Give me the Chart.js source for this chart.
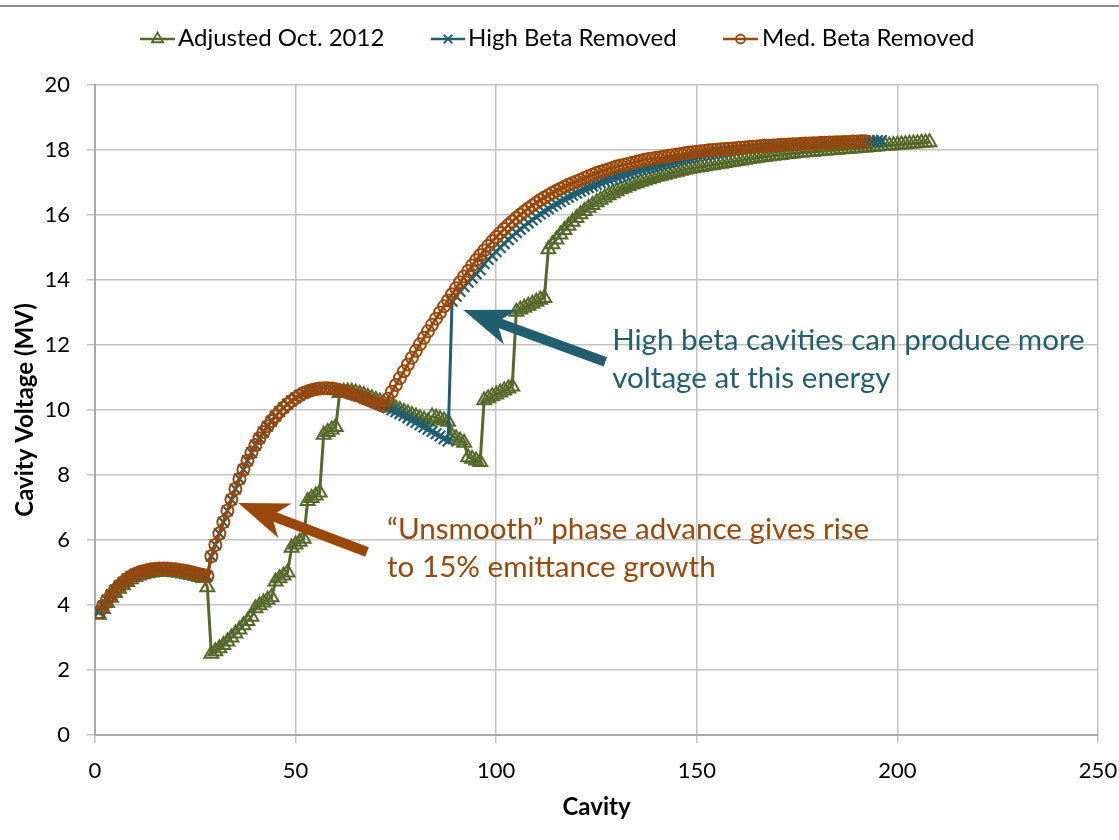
<!DOCTYPE html>
<html>
<head>
<meta charset="utf-8">
<script src="https://cdn.jsdelivr.net/npm/chart.js@4.4.1/dist/chart.umd.min.js"></script>
<style>
  html, body { margin: 0; padding: 0; background: #fff; }
  #wrap { position: relative; width: 1119px; height: 840px; }
  #topline { position: absolute; left: 0; top: 5px; width: 1119px; height: 2px; background: #8c8c8c; }
</style>
</head>
<body>
<div id="wrap">
  <div id="topline"></div>
  <canvas id="chart" width="1119" height="840"></canvas>
</div>
<script>
// cavity voltage (MV), one value per cavity, cavity numbers start at 1
const adjustedOct2012 = [
  3.70, 3.88, 4.06, 4.22, 4.37, 4.50, 4.61, 4.71, 4.79, 4.86,
  4.91, 4.95, 4.98, 5.00, 5.02, 5.03, 5.03, 5.03, 5.02, 5.01,
  4.99, 4.97, 4.95, 4.92, 4.89, 4.86, 4.83, 4.55,
  2.50, 2.58, 2.67, 2.77, 2.88, 3.00, 3.12, 3.25, 3.38, 3.51, 3.64,
  3.90, 3.99, 4.08, 4.16, 4.24,
  4.72, 4.82, 4.91, 5.00,
  5.76, 5.86, 5.95, 6.04,
  7.20, 7.29, 7.37, 7.46,
  9.24, 9.32, 9.40, 9.48,
  10.52, 10.56, 10.57, 10.56, 10.54, 10.50, 10.46, 10.41, 10.36, 10.31, 10.26, 10.21,
  10.15, 10.10, 10.05, 10.00, 9.95, 9.90, 9.85, 9.80, 9.75, 9.70, 9.65,
  9.80, 9.76, 9.72, 9.68, 9.64,
  9.20, 9.13, 9.06, 8.99,
  8.55, 8.50, 8.45, 8.40,
  10.30, 10.36, 10.42, 10.48, 10.54, 10.60, 10.66, 10.72,
  13.02, 13.09, 13.15, 13.21, 13.27, 13.33, 13.39, 13.45,
  14.95, 15.10, 15.25, 15.40, 15.54, 15.67, 15.79, 15.91, 16.02, 16.12,
  16.22, 16.31, 16.39, 16.47, 16.54, 16.61, 16.67, 16.73, 16.79, 16.84,
  16.89, 16.94, 16.98, 17.02, 17.06, 17.10, 17.14, 17.18, 17.21, 17.24,
  17.27, 17.30, 17.33, 17.36, 17.39, 17.42, 17.44, 17.46, 17.48, 17.50,
  17.52, 17.54, 17.56, 17.58, 17.60, 17.62, 17.64, 17.66,
  17.68, 17.70, 17.72, 17.74, 17.76, 17.78, 17.79, 17.81, 17.82, 17.84,
  17.85, 17.87, 17.88, 17.89, 17.91, 17.92, 17.93, 17.94, 17.95, 17.96,
  17.97, 17.98, 17.99, 18.00, 18.01, 18.02, 18.03, 18.04, 18.05, 18.06,
  18.07, 18.08, 18.09, 18.10, 18.11, 18.12, 18.13, 18.14, 18.15, 18.16,
  18.17, 18.18, 18.19, 18.20, 18.21, 18.22, 18.23, 18.24
];

const highBetaRemoved = [
  3.78, 3.97, 4.15, 4.31, 4.46, 4.59, 4.70, 4.80, 4.88, 4.95,
  5.00, 5.04, 5.07, 5.10, 5.11, 5.12, 5.12, 5.12, 5.11, 5.10,
  5.08, 5.06, 5.04, 5.01, 4.98, 4.95, 4.92, 4.89,
  5.50, 5.85, 6.20, 6.55, 6.90, 7.24, 7.57, 7.88, 8.17, 8.44,
  8.69, 8.92, 9.13, 9.32, 9.50, 9.66, 9.81, 9.95, 10.07, 10.18,
  10.28, 10.37, 10.45, 10.52, 10.57, 10.61, 10.64, 10.66, 10.67, 10.67,
  10.66, 10.64, 10.61, 10.58, 10.54, 10.50, 10.46, 10.42, 10.37, 10.32,
  10.27, 10.22, 10.17, 10.12,
  10.07, 10.01, 9.95, 9.89, 9.83, 9.76, 9.69, 9.62, 9.55, 9.48,
  9.41, 9.34, 9.27, 9.20, 9.12, 9.05,
  13.35, 13.50, 13.65, 13.79, 13.93, 14.06, 14.19, 14.32, 14.50, 14.63,
  14.75, 14.87,
  15.00, 15.12, 15.24, 15.35, 15.46, 15.56, 15.66, 15.76, 15.85, 15.94,
  16.03, 16.11, 16.19, 16.27, 16.34, 16.41, 16.48, 16.55, 16.61, 16.67,
  16.73,
  16.79, 16.84, 16.89, 16.94, 16.99, 17.04, 17.08, 17.12, 17.16, 17.20,
  17.24, 17.28, 17.32, 17.36, 17.40, 17.43, 17.46, 17.49, 17.52, 17.55,
  17.58, 17.61, 17.64, 17.67, 17.70, 17.73, 17.76, 17.79, 17.82,
  17.84, 17.86, 17.88, 17.90, 17.92, 17.94, 17.96, 17.98, 18.00, 18.01,
  18.03, 18.04, 18.05, 18.07, 18.08, 18.09, 18.10, 18.11, 18.12, 18.13,
  18.14, 18.15, 18.16, 18.17, 18.18, 18.18, 18.19, 18.20, 18.21, 18.21,
  18.22, 18.23, 18.23, 18.24, 18.24, 18.25, 18.25, 18.26, 18.26, 18.27,
  18.27, 18.28, 18.28, 18.28, 18.29, 18.29
];

const medBetaRemoved = [
  3.78, 3.97, 4.15, 4.31, 4.46, 4.59, 4.70, 4.80, 4.88, 4.95,
  5.00, 5.04, 5.07, 5.10, 5.11, 5.12, 5.12, 5.12, 5.11, 5.10,
  5.08, 5.06, 5.04, 5.01, 4.98, 4.95, 4.92, 4.89,
  5.50, 5.85, 6.20, 6.55, 6.90, 7.24, 7.57, 7.88, 8.17, 8.44,
  8.69, 8.92, 9.13, 9.32, 9.50, 9.66, 9.81, 9.95, 10.07, 10.18,
  10.28, 10.37, 10.45, 10.52, 10.57, 10.61, 10.64, 10.66, 10.67, 10.67,
  10.66, 10.64, 10.61, 10.58, 10.54, 10.50, 10.46, 10.42, 10.37, 10.32,
  10.27, 10.22, 10.17, 10.12,
  10.35, 10.56, 10.77, 10.98, 11.19, 11.40, 11.61, 11.82, 12.02, 12.22,
  12.42, 12.62, 12.81, 13.00, 13.19, 13.37, 13.56, 13.75, 13.93, 14.11,
  14.28, 14.45, 14.61, 14.76, 14.91, 15.05, 15.19, 15.32,
  15.45, 15.57, 15.69, 15.80, 15.91, 16.01, 16.11, 16.20, 16.29, 16.38,
  16.46, 16.54, 16.61, 16.68, 16.75, 16.81, 16.87, 16.93, 16.98, 17.03,
  17.08,
  17.14, 17.19, 17.24, 17.29, 17.33, 17.37, 17.41, 17.45, 17.49, 17.52,
  17.55, 17.58, 17.61, 17.64, 17.67, 17.70, 17.72, 17.74, 17.76, 17.78,
  17.80, 17.82, 17.84, 17.86, 17.88, 17.90, 17.92, 17.93, 17.95,
  17.96, 17.97, 17.99, 18.00, 18.01, 18.02, 18.03, 18.04, 18.05, 18.06,
  18.07, 18.08, 18.09, 18.10, 18.11, 18.12, 18.13, 18.13, 18.14, 18.15,
  18.16, 18.16, 18.17, 18.18, 18.18, 18.19, 18.20, 18.20, 18.21, 18.21,
  18.22, 18.22, 18.23, 18.23, 18.24, 18.24, 18.25, 18.25, 18.26, 18.26,
  18.27, 18.27
];

const seriesNames = ['Adjusted Oct. 2012', 'High Beta Removed', 'Med. Beta Removed'];
const xTicks = [0, 50, 100, 150, 200, 250];
const yTicks = [0, 2, 4, 6, 8, 10, 12, 14, 16, 18, 20];

const FONT = 'Lato, "Open Sans", sans-serif';
const GREEN = '#56692b';
const TEAL = '#215e6e';
const BROWN = '#9a4809';
const GRID = '#c2c2c2';

// callouts, anchored in data units (cavity, MV)
const callouts = [
  { color: TEAL, tip: [91.8, 13.08], tail: [127.2, 11.48], textAt: [128.9, 12.15, 10.98],
    lines: ['High beta cavities can produce more', 'voltage at this energy'] },
  { color: BROWN, tip: [35.7, 7.14], tail: [67.8, 5.63], textAt: [72.8, 6.31, 5.14],
    lines: ['\u201cUnsmooth\u201d phase advance gives rise', 'to 15% emittance growth'] }
];

const toPoints = vals => vals.map((v, i) => ({ x: i + 1, y: v }));

function drawMarker(ctx, style, x, y, r, color) {
  ctx.save();
  ctx.strokeStyle = color;
  ctx.lineWidth = 1.8;
  ctx.beginPath();
  if (style === 'triangle') {
    ctx.moveTo(x, y - r);
    ctx.lineTo(x + r * 0.866, y + r / 2);
    ctx.lineTo(x - r * 0.866, y + r / 2);
    ctx.closePath();
  } else if (style === 'circle') {
    ctx.arc(x, y, r, 0, Math.PI * 2);
  } else {
    const d = r * 0.707;
    ctx.moveTo(x - d, y - d); ctx.lineTo(x + d, y + d);
    ctx.moveTo(x + d, y - d); ctx.lineTo(x - d, y + d);
  }
  ctx.stroke();
  ctx.restore();
}

function drawArrow(ctx, x0, y0, x1, y1, color) {
  const dx = x0 - x1, dy = y0 - y1, len = Math.hypot(dx, dy);
  const ux = dx / len, uy = dy / len, nx = -uy, ny = ux;
  const L = 50, W = 18.5, notch = 36;
  ctx.save();
  ctx.strokeStyle = color;
  ctx.fillStyle = color;
  ctx.lineWidth = 10;
  ctx.beginPath();
  ctx.moveTo(x0, y0);
  ctx.lineTo(x1 + ux * (notch - 2), y1 + uy * (notch - 2));
  ctx.stroke();
  ctx.beginPath();
  ctx.moveTo(x1, y1);
  ctx.lineTo(x1 + ux * L + nx * W, y1 + uy * L + ny * W);
  ctx.lineTo(x1 + ux * notch, y1 + uy * notch);
  ctx.lineTo(x1 + ux * L - nx * W, y1 + uy * L - ny * W);
  ctx.closePath();
  ctx.fill();
  ctx.restore();
}

const legendItems = [
  { x0: 140, x1: 175, tx: 178 },
  { x0: 431, x1: 465, tx: 468 },
  { x0: 723, x1: 758, tx: 762 }
];

const extrasPlugin = {
  id: 'extras',
  afterDraw(chart) {
    const { ctx } = chart;
    const sx = chart.scales.x, sy = chart.scales.y;

    // legend
    chart.data.datasets.forEach((ds, i) => {
      const it = legendItems[i];
      const ly = 39;
      ctx.save();
      ctx.strokeStyle = ds.borderColor;
      ctx.lineWidth = 2.5;
      ctx.beginPath();
      ctx.moveTo(it.x0, ly);
      ctx.lineTo(it.x1, ly);
      ctx.stroke();
      ctx.restore();
      drawMarker(ctx, ds.pointStyle, (it.x0 + it.x1) / 2, ly, ds.pointRadius - 1.5, ds.borderColor);
      ctx.save();
      ctx.fillStyle = '#000';
      ctx.font = '24px ' + FONT;
      ctx.textBaseline = 'middle';
      ctx.textAlign = 'left';
      ctx.fillText(ds.label, it.tx, 38);
      ctx.restore();
    });

    // arrows and notes
    callouts.forEach(c => {
      drawArrow(ctx,
        sx.getPixelForValue(c.tail[0]), sy.getPixelForValue(c.tail[1]),
        sx.getPixelForValue(c.tip[0]), sy.getPixelForValue(c.tip[1]), c.color);
      ctx.save();
      ctx.fillStyle = c.color;
      ctx.font = '29.6px ' + FONT;
      ctx.textBaseline = 'middle';
      ctx.textAlign = 'left';
      const tx = sx.getPixelForValue(c.textAt[0]);
      ctx.fillText(c.lines[0], tx, sy.getPixelForValue(c.textAt[1]));
      ctx.fillText(c.lines[1], tx, sy.getPixelForValue(c.textAt[2]));
      ctx.restore();
    });
  }
};

function draw() {
  new Chart(document.getElementById('chart'), {
    type: 'line',
    data: {
      datasets: [
        {
          label: seriesNames[0],
          data: toPoints(adjustedOct2012),
          borderColor: GREEN,
          borderWidth: 3,
          pointStyle: 'triangle',
          pointRadius: 8,
          pointBorderWidth: 2,
          pointBorderColor: GREEN,
          pointBackgroundColor: 'rgba(0,0,0,0)',
          order: 3
        },
        {
          label: seriesNames[1],
          data: toPoints(highBetaRemoved),
          borderColor: TEAL,
          borderWidth: 3,
          pointStyle: 'crossRot',
          pointRadius: 7.5,
          pointBorderWidth: 2.2,
          pointBorderColor: TEAL,
          order: 2
        },
        {
          label: seriesNames[2],
          data: toPoints(medBetaRemoved),
          borderColor: BROWN,
          borderWidth: 3,
          pointStyle: 'circle',
          pointRadius: 6,
          pointBorderWidth: 2,
          pointBorderColor: BROWN,
          pointBackgroundColor: 'rgba(0,0,0,0)',
          order: 1
        }
      ]
    },
    options: {
      responsive: false,
      animation: false,
      layout: { padding: { top: 85, right: 21, left: 0, bottom: 0 } },
      elements: { line: { tension: 0 } },
      plugins: {
        legend: { display: false },
        tooltip: { enabled: false }
      },
      scales: {
        x: {
          type: 'linear',
          min: 0,
          max: 250,
          afterBuildTicks: s => { s.ticks = xTicks.map(v => ({ value: v })); },
          afterFit: s => { s.height = 105; s.paddingLeft = 0; s.paddingRight = 0; },
          ticks: { color: '#000', font: { family: FONT, size: 22 }, padding: 15 },
          grid: { color: GRID, lineWidth: 1.5, tickLength: 8, tickColor: GRID },
          border: { color: '#a9a9a9', width: 2 },
          title: {
            display: true,
            text: 'Cavity',
            color: '#000',
            font: { family: FONT, size: 24, weight: 'bold' },
            padding: { top: 4, bottom: 18 }
          }
        },
        y: {
          min: 0,
          max: 20,
          afterBuildTicks: s => { s.ticks = yTicks.map(v => ({ value: v })); },
          afterFit: s => { s.width = 95; s.paddingTop = 0; s.paddingBottom = 0; },
          ticks: { color: '#000', font: { family: FONT, size: 22 }, padding: 17 },
          grid: { color: GRID, lineWidth: 1.5, tickLength: 8, tickColor: GRID },
          border: { color: '#a9a9a9', width: 2 },
          title: {
            display: true,
            text: 'Cavity Voltage (MV)',
            color: '#000',
            font: { family: FONT, size: 24, weight: 'bold' },
            padding: { top: 11, bottom: 0 }
          }
        }
      }
    },
    plugins: [extrasPlugin]
  });
}

document.fonts.load('24px Lato').then(draw, draw);
</script>
</body>
</html>
